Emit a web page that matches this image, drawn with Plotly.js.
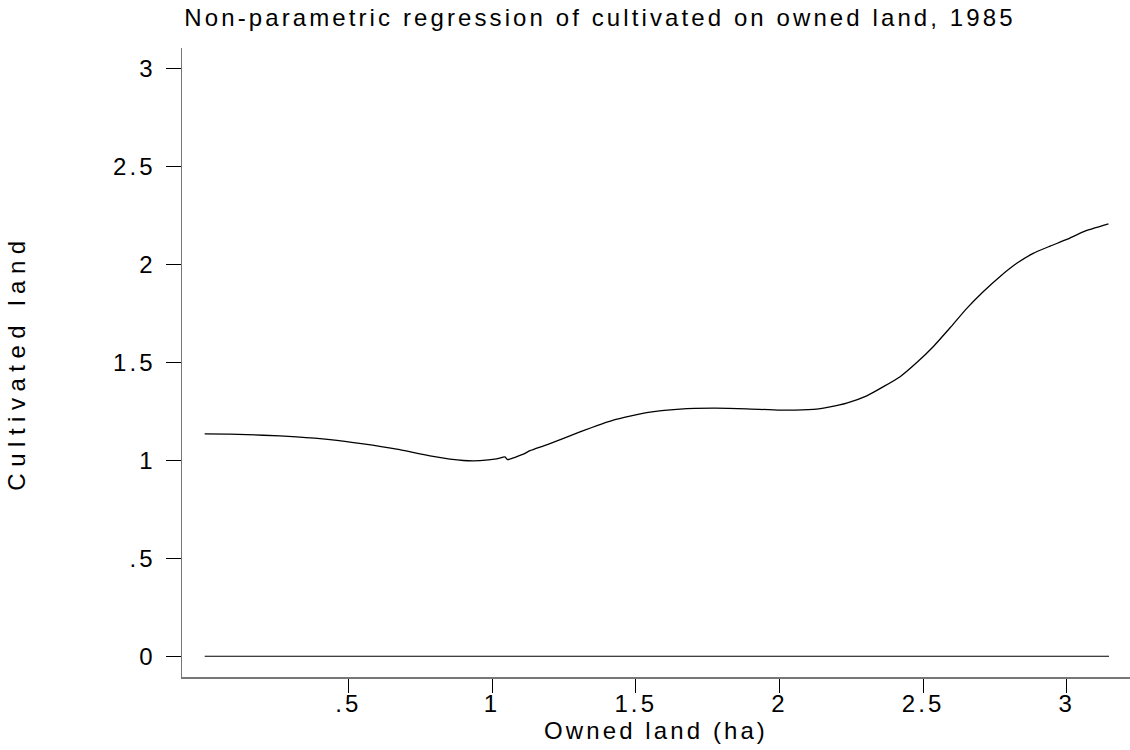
<!DOCTYPE html>
<html>
<head>
<meta charset="utf-8">
<script src="https://cdn.plot.ly/plotly-3.0.1.min.js"></script>
<style>
  html, body { margin: 0; padding: 0; background: #fff; }
  #chart { width: 1130px; height: 750px; }
  .gtitle, .xtitle, .xtick text, .ytick text { letter-spacing: 3.1px; }
  .ytitle { letter-spacing: 6.5px; }
</style>
</head>
<body>
<div id="chart"></div>
<script>
// Owned land (ha) and fitted cultivated land
const ownedLand = [0.000, 0.088, 0.204, 0.320, 0.436, 0.552, 0.668, 0.784, 0.900, 0.958,
  1.016, 1.045, 1.053, 1.109, 1.132, 1.190, 1.306, 1.422, 1.538, 1.654, 1.770, 1.886,
  2.002, 2.118, 2.176, 2.234, 2.304, 2.362, 2.420, 2.478, 2.535, 2.594, 2.652, 2.709,
  2.767, 2.826, 2.883, 2.942, 3.000, 3.057, 3.145];
const cultivatedLand = [1.136, 1.135, 1.129, 1.121, 1.107, 1.085, 1.058, 1.024, 1.000, 0.999,
  1.008, 1.018, 1.005, 1.032, 1.050, 1.080, 1.146, 1.206, 1.244, 1.262, 1.267, 1.264,
  1.257, 1.261, 1.274, 1.293, 1.330, 1.377, 1.428, 1.500, 1.581, 1.678, 1.777, 1.862,
  1.939, 2.007, 2.058, 2.095, 2.129, 2.168, 2.208];
// Reference line at zero
const zeroLineX = [0.000, 3.147];
const zeroLineY = [0, 0];
// Axis ticks
const xTickVals = [0.5, 1, 1.5, 2, 2.5, 3];
const xTickText = [".5", "1", "1.5", "2", "2.5", "3"];
const yTickVals = [0, 0.5, 1, 1.5, 2, 2.5, 3];
const yTickText = ["0", ".5", "1", "1.5", "2", "2.5", "3"];

const FONT = "Liberation Sans, Arial, sans-serif";

const traces = [
  {
    x: ownedLand, y: cultivatedLand, type: "scatter", mode: "lines",
    line: { color: "#000", width: 1.3, shape: "spline", smoothing: 0.5 },
    hoverinfo: "skip", showlegend: false
  },
  {
    x: zeroLineX, y: zeroLineY, type: "scatter", mode: "lines",
    line: { color: "#000", width: 1 }, hoverinfo: "skip", showlegend: false
  }
];

const layout = {
  width: 1130, height: 750,
  paper_bgcolor: "#fff", plot_bgcolor: "#fff",
  margin: { l: 182, r: 0, t: 48, b: 73, pad: 0 },
  showlegend: false,
  font: { family: FONT, size: 24, color: "#000" },
  title: {
    text: "Non-parametric regression of cultivated on owned land, 1985",
    font: { family: FONT, size: 24, color: "#000" },
    xref: "container", yref: "container",
    x: 600 / 1130, xanchor: "center", y: 1 - 18 / 750, yanchor: "middle"
  },
  xaxis: {
    range: [-0.079, 3.22],
    tickmode: "array", tickvals: xTickVals, ticktext: xTickText,
    ticks: "outside", ticklen: 14, tickwidth: 1, tickcolor: "#000",
    ticklabelstandoff: -9,
    showline: true, linecolor: "#777", linewidth: 1.5,
    showgrid: false, zeroline: false,
    tickfont: { family: FONT, size: 24, color: "#000" },
    title: { text: "Owned land (ha)", font: { family: FONT, size: 24, color: "#000" }, standoff: 0 }
  },
  yaxis: {
    range: [-0.106, 3.107],
    tickmode: "array", tickvals: yTickVals, ticktext: yTickText,
    ticks: "outside", ticklen: 15, tickwidth: 1, tickcolor: "#000",
    ticklabelstandoff: 5,
    showline: true, linecolor: "#777", linewidth: 1.5,
    showgrid: false, zeroline: false,
    tickfont: { family: FONT, size: 24, color: "#000" },
    title: { text: "Cultivated land", font: { family: FONT, size: 24, color: "#000" }, standoff: 80 }
  }
};

Plotly.newPlot("chart", traces, layout, { staticPlot: true, displayModeBar: false });
</script>
</body>
</html>
